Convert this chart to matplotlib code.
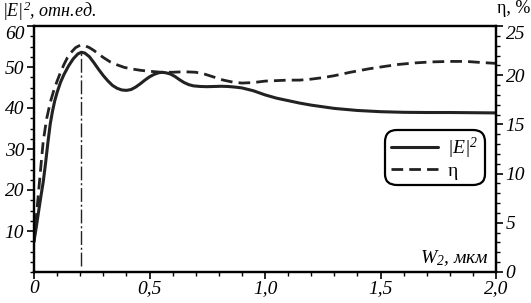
import matplotlib
matplotlib.use("Agg")
import matplotlib.pyplot as plt
from matplotlib.ticker import MultipleLocator, FixedLocator, FixedFormatter

plt.rcParams["font.family"] = ["Liberation Serif", "DejaVu Serif"]
plt.rcParams["font.style"] = "italic"
plt.rcParams["mathtext.fontset"] = "custom"
plt.rcParams["mathtext.rm"] = "Liberation Serif"
plt.rcParams["mathtext.it"] = "Liberation Serif:italic"

# |E|^2 (left axis, rel. units) vs W2, um
w_e = [0.0, 0.01, 0.02, 0.03, 0.04, 0.05, 0.06, 0.07, 0.08, 0.09, 0.10,
       0.115, 0.13, 0.15, 0.17, 0.19, 0.205, 0.22, 0.24, 0.26, 0.28, 0.30,
       0.32, 0.34, 0.36, 0.38, 0.40, 0.42, 0.44, 0.46, 0.48, 0.50, 0.52,
       0.54, 0.555, 0.57, 0.59, 0.61, 0.63, 0.65, 0.67, 0.69, 0.72, 0.75,
       0.78, 0.81, 0.84, 0.87, 0.90, 0.95, 1.00, 1.05, 1.10, 1.15, 1.20,
       1.25, 1.30, 1.40, 1.50, 1.60, 1.70, 1.80, 1.90, 2.00]
e2 = [7.5, 11.0, 14.8, 18.5, 22.0, 26.5, 31.5, 36.0, 39.2, 41.8, 43.8,
      46.3, 48.2, 50.3, 52.0, 53.2, 53.6, 53.4, 52.5, 51.0, 49.4, 47.9,
      46.6, 45.5, 44.8, 44.4, 44.3, 44.5, 45.1, 45.9, 46.8, 47.6, 48.2,
      48.6, 48.7, 48.6, 48.3, 47.7, 46.9, 46.2, 45.7, 45.4, 45.25, 45.2,
      45.25, 45.3, 45.25, 45.1, 44.9, 44.2, 43.2, 42.4, 41.8, 41.2, 40.7,
      40.3, 39.9, 39.4, 39.1, 38.95, 38.9, 38.9, 38.85, 38.8]

# eta, % (right axis)
w_eta = [0.0, 0.01, 0.02, 0.03, 0.04, 0.055, 0.07, 0.085, 0.10, 0.115,
         0.13, 0.145, 0.16, 0.18, 0.20, 0.22, 0.24, 0.26, 0.28, 0.30, 0.33,
         0.36, 0.39, 0.42, 0.46, 0.50, 0.55, 0.60, 0.65, 0.70, 0.74, 0.78,
         0.82, 0.86, 0.90, 0.95, 1.00, 1.05, 1.10, 1.15, 1.20, 1.25, 1.30,
         1.37, 1.45, 1.52, 1.58, 1.65, 1.72, 1.80, 1.87, 1.93, 2.00]
eta = [3.0, 5.6, 8.2, 10.8, 13.3, 15.6, 17.2, 18.4, 19.4, 20.3,
       21.1, 21.8, 22.3, 22.8, 23.05, 23.0, 22.8, 22.5, 22.15, 21.8, 21.35,
       21.05, 20.8, 20.65, 20.5, 20.4, 20.3, 20.3, 20.35, 20.3, 20.1, 19.8,
       19.5, 19.3, 19.2, 19.25, 19.4, 19.45, 19.5, 19.5, 19.6, 19.75, 19.95,
       20.3, 20.65, 20.9, 21.1, 21.25, 21.35, 21.4, 21.4, 21.3, 21.2]

w_peak = 0.205
e2_peak = 53.6

x_ticks = [0, 0.5, 1.0, 1.5, 2.0]
x_labels = ["0", "0,5", "1,0", "1,5", "2,0"]
left_ticks = [10, 20, 30, 40, 50, 60]
right_ticks = [0, 5, 10, 15, 20, 25]

fig = plt.figure(figsize=(5.31, 3.03), dpi=100)
ax = fig.add_axes([34 / 531, 31 / 303, 462 / 531, 246 / 303])
ax2 = ax.twinx()

l1, = ax.plot(w_e, e2, color="#222222", lw=2.2, solid_capstyle="round",
              label=r"$|E|^2$")
l2, = ax2.plot(w_eta, eta, color="#222222", lw=2.0,
               linestyle=(0, (4.2, 2.2)), label="η")
ax.plot([w_peak, w_peak], [1.5, e2_peak], color="#222222", lw=1.0,
        linestyle=(0, (10, 2, 1.5, 2)))

ax.set_xlim(0, 2.0)
ax.set_ylim(0, 60)
ax2.set_ylim(0, 25)

ax.xaxis.set_major_locator(FixedLocator(x_ticks))
ax.xaxis.set_major_formatter(FixedFormatter(x_labels))
ax.xaxis.set_minor_locator(MultipleLocator(0.1))
ax.yaxis.set_major_locator(FixedLocator(left_ticks))
ax.yaxis.set_minor_locator(MultipleLocator(2.5))
ax2.yaxis.set_major_locator(FixedLocator(right_ticks))
ax2.yaxis.set_minor_locator(MultipleLocator(1))

for a in (ax, ax2):
    for s in a.spines.values():
        s.set_linewidth(1.6)
    a.tick_params(which="major", direction="out", length=5, width=1.2,
                  labelsize=14, pad=2)
    a.tick_params(which="minor", direction="out", length=3, width=1.0)
ax.tick_params(axis="x", pad=1)
ax.tick_params(axis="x", which="both", top=False)

# top labels sit a bit below their ticks, as in the original
fig.canvas.draw()
ax.yaxis.get_major_ticks()[-1].label1.set_va("top")
ax2.yaxis.get_major_ticks()[-1].label2.set_va("top")

fig.text(0.004, 1.0, r"$|E|^2$, отн.ед.", fontsize=13, ha="left", va="top")
fig.text(0.998, 1.0, "η, %", fontsize=13, ha="right", va="top",
         fontstyle="normal")
ax.text(0.985, 0.015, r"$W_2$, мкм", transform=ax.transAxes, fontsize=14,
        ha="right", va="bottom")

leg = ax2.legend(handles=[l1, l2], loc="upper right",
                 bbox_to_anchor=(0.99, 0.605), fontsize=14, frameon=True,
                 fancybox=True, framealpha=1, edgecolor="black",
                 handlelength=2.4, handletextpad=0.5, borderpad=0.15,
                 labelspacing=0.05)
leg.get_frame().set_linewidth(1.6)
leg.get_frame().set_boxstyle("round", pad=0.15, rounding_size=0.6)
leg.get_texts()[1].set_fontstyle("normal")

fig.savefig("out.png", dpi=100)
